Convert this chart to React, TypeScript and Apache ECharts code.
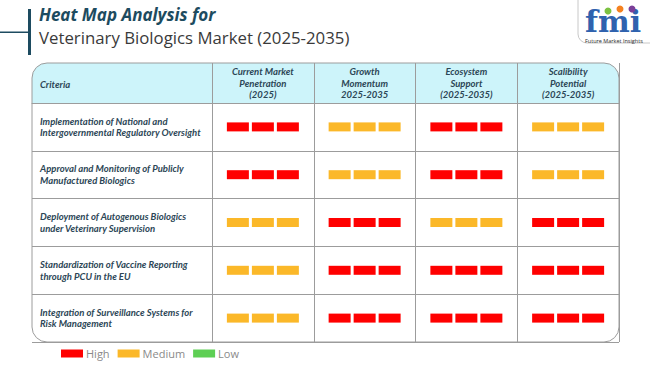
import React, { useEffect, useRef } from "react";
import * as echarts from "echarts";

const criteria = [
  "Implementation of National and\nIntergovernmental Regulatory Oversight",
  "Approval and Monitoring of Publicly\nManufactured Biologics",
  "Deployment of Autogenous Biologics\nunder Veterinary Supervision",
  "Standardization of Vaccine Reporting\nthrough PCU in the EU",
  "Integration of Surveillance Systems for\nRisk Management",
];

const metrics = [
  "Current Market\nPenetration\n(2025)",
  "Growth\nMomentum\n2025-2035",
  "Ecosystem\nSupport\n(2025-2035)",
  "Scalibility\nPotential\n(2025-2035)",
];

const currentPenetration = ["High", "High", "Medium", "Medium", "Medium"];
const growthMomentum = ["Medium", "Medium", "High", "High", "High"];
const ecosystemSupport = ["High", "High", "Medium", "High", "High"];
const scalabilityPotential = ["Medium", "Medium", "High", "High", "High"];

const levels = ["High", "Medium", "Low"];
const levelColors: Record<string, string> = {
  High: "#FF0000",
  Medium: "#FBB829",
  Low: "#5ECF54",
};

const columns = [currentPenetration, growthMomentum, ecosystemSupport, scalabilityPotential];

const TEXT = "#2C4656";
const LINE = "#9C9C9C";
const FONT = "Lato";

export default function App() {
  const ref = useRef<HTMLDivElement>(null);
  useEffect(() => {
    if (!ref.current) return;
    const chart = echarts.init(ref.current, null, { renderer: "svg" });

    const seriesFor = (level: string) => {
      const data: number[][] = [];
      columns.forEach((col, ci) =>
        col.forEach((v, ri) => {
          if (v === level) data.push([ci, ri]);
        })
      );
      return {
        name: level,
        type: "custom",
        xAxisIndex: 1,
        yAxisIndex: 1,
        itemStyle: { color: levelColors[level] },
        data,
        z: 5,
        renderItem: (params: any, api: any) => {
          const c = api.coord([api.value(0), api.value(1)]);
          const w = 22, h = 9, g = 3;
          const fill = api.visual("color");
          return {
            type: "group",
            children: [-1, 0, 1].map((k) => ({
              type: "rect",
              shape: { x: c[0] + k * (w + g) - w / 2, y: c[1] - h / 2, width: w, height: h },
              style: { fill },
            })),
          };
        },
      };
    };

    const option: any = {
      animation: false,
      backgroundColor: "#ffffff",
      title: [
        {
          text: "Heat Map Analysis for",
          left: 39,
          top: 6,
          padding: 0,
          textStyle: { fontFamily: "Open Sans", fontSize: 17, fontStyle: "italic", fontWeight: "bold", color: "#1D4B60" },
        },
        {
          text: "Veterinary Biologics Market (2025-2035)",
          left: 39,
          top: 29,
          padding: 0,
          textStyle: { fontFamily: "Open Sans", fontSize: 16.8, fontWeight: "normal", color: "#3A3A3A" },
        },
      ],
      legend: {
        data: levels,
        left: 61,
        top: 348,
        icon: "rect",
        itemWidth: 22,
        itemHeight: 8,
        itemGap: 8,
        padding: 0,
        textStyle: { fontFamily: "Open Sans", fontSize: 11, color: "#8A8A8A", padding: [0, 0, 0, -2] },
      },
      grid: [
        { left: 32, right: 438, top: 103, bottom: 23 },
        { left: 212, right: 31, top: 103, bottom: 23 },
      ],
      xAxis: [
        {
          gridIndex: 0,
          type: "category",
          position: "top",
          data: [""],
          axisLine: { show: true, lineStyle: { color: LINE, width: 1 } },
          axisTick: { show: false },
          axisLabel: { show: false },
          splitLine: { show: false },
        },
        {
          gridIndex: 1,
          type: "category",
          position: "top",
          data: metrics,
          axisLine: { show: true, lineStyle: { color: LINE, width: 1 } },
          axisTick: { show: true, length: 40, inside: false, lineStyle: { color: LINE, width: 1 } },
          axisLabel: {
            margin: 20,
            verticalAlign: "middle",
            fontFamily: FONT,
            fontSize: 9.5,
            fontStyle: "italic",
            fontWeight: "bold",
            color: TEXT,
            lineHeight: 11.7,
            align: "center",
          },
          splitLine: { show: true, lineStyle: { color: LINE, width: 1 } },
        },
      ],
      yAxis: [
        {
          gridIndex: 0,
          type: "category",
          inverse: true,
          data: criteria,
          axisLine: { show: false },
          axisTick: { show: false },
          axisLabel: {
            inside: true,
            margin: 8,
            align: "left",
            fontFamily: FONT,
            fontSize: 9.5,
            fontStyle: "italic",
            fontWeight: "bold",
            color: TEXT,
            lineHeight: 11.5,
          },
          splitLine: { show: true, lineStyle: { color: LINE, width: 1 } },
        },
        {
          gridIndex: 1,
          type: "category",
          inverse: true,
          data: criteria,
          axisLine: { show: true, lineStyle: { color: LINE, width: 1 } },
          axisTick: { show: false },
          axisLabel: { show: false },
          splitLine: { show: true, lineStyle: { color: LINE, width: 1 } },
        },
      ],
      graphic: [
        {
          type: "rect",
          z: -10,
          shape: { x: 32, y: 63, width: 587, height: 40, r: [15, 15, 0, 0] },
          style: { fill: "#CDF4FA" },
        },
        {
          type: "rect",
          z: 100,
          shape: { x: 32, y: 63, width: 587, height: 279, r: 15 },
          style: { fill: "none", stroke: LINE, lineWidth: 1 },
        },
        {
          type: "text",
          z: 100,
          x: 40,
          y: 84,
          style: {
            text: "Criteria",
            fontFamily: FONT,
            fontSize: 9.5,
            fontStyle: "italic",
            fontWeight: "bold",
            fill: TEXT,
            verticalAlign: "middle",
          },
        },
        {
          type: "rect",
          shape: { x: 28, y: 9, width: 3, height: 46 },
          style: { fill: "#1D4B60" },
        },
        {
          type: "rect",
          shape: { x: 0, y: 31.5, width: 28, height: 1.5 },
          style: { fill: "#1D4B60" },
        },
        {
          type: "group",
          children: [
            {
              type: "rect",
              shape: { x: 578, y: -12, width: 90, height: 55, r: 9 },
              style: { fill: "#ffffff", stroke: "#C8C8C8", lineWidth: 1 },
            },
            {
              type: "text",
              x: 585,
              y: 6,
              style: {
                text: "fmi",
                fontFamily: "DejaVu Serif",
                fontSize: 30,
                fontWeight: "bold",
                fill: "#2F62AE",
              },
            },
            { type: "circle", shape: { cx: 608, cy: 11, r: 3.5 }, style: { fill: "#7CC242" } },
            { type: "circle", shape: { cx: 620, cy: 9, r: 3.5 }, style: { fill: "#F58220" } },
            { type: "circle", shape: { cx: 632, cy: 9, r: 3.5 }, style: { fill: "#7B3F98" } },
            {
              type: "text",
              x: 585,
              y: 38,
              style: {
                text: "Future Market Insights",
                fontFamily: "Open Sans",
                fontSize: 5.5,
                fill: "#2A2A2A",
              },
            },
          ],
        },
      ],
      series: levels.map(seriesFor),
    };

    chart.setOption(option);
    return () => chart.dispose();
  }, []);

  return <div ref={ref} style={{ width: 650, height: 365, position: "absolute", left: 0, top: 0 }} />;
}
